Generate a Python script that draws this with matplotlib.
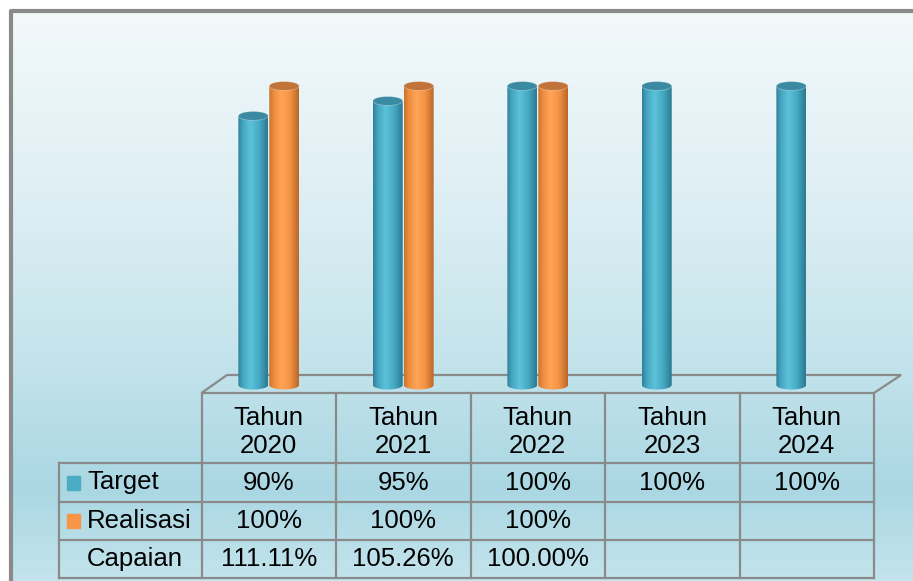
import numpy as np
import matplotlib.pyplot as plt
from matplotlib.colors import LinearSegmentedColormap
from matplotlib.patches import Ellipse, Polygon, Rectangle

plt.rcParams['font.family'] = ['Liberation Sans', 'DejaVu Sans']

# data
years = ['2020', '2021', '2022', '2023', '2024']
target = [90, 95, 100, 100, 100]
realisasi = [100, 100, 100, None, None]
capaian = ['111.11%', '105.26%', '100.00%', '', '']
row_names = ['Target', 'Realisasi', 'Capaian']

TEAL = '#4bacc6'
ORANGE = '#f79646'
LINE = '#8a8a8a'
W, H = 913, 581
FS = 18.5

fig = plt.figure(figsize=(W / 100, H / 100), dpi=100)

# background canvas in pixel units (frame, floor, table)
bg = fig.add_axes([0, 0, 1, 1])
bg.axis('off')
grad = LinearSegmentedColormap.from_list('bg', [
    (0.0, '#f3f9fb'), (0.35, '#dceef3'), (0.62, '#c3e3eb'),
    (0.84, '#aad7e3'), (1.0, '#c3e4ec')])
bg.imshow(np.linspace(0, 1, 256).reshape(-1, 1), cmap=grad,
          extent=(11, W, H, 11), aspect='auto', zorder=0)
bg.set_xlim(0, W)
bg.set_ylim(H, 0)
bg.plot([11, 11, W], [H, 11, 11], color=LINE, lw=3, zorder=1)

# floor
floor = [(201.5, 393), (227, 375), (901, 375), (874, 393)]
bg.add_patch(Polygon(floor, closed=True, facecolor='none', edgecolor=LINE, lw=1.6, zorder=1))

# table grid
cols = np.linspace(201.5, 874, len(years) + 1)
rows = [463, 502, 540, 578]
for y in rows:
    bg.plot([58.5, 874], [y, y], color=LINE, lw=1.6, zorder=1)
bg.plot([58.5, 58.5], [463, 578], color=LINE, lw=1.6, zorder=1)
for x in cols:
    bg.plot([x, x], [393, 578], color=LINE, lw=1.6, zorder=1)

centers = (cols[:-1] + cols[1:]) / 2
for i, yr in enumerate(years):
    bg.text(centers[i], 432, 'Tahun\n' + yr, ha='center', va='center',
            fontsize=FS, linespacing=1.22, zorder=2)
    bg.text(centers[i], 483, f'{target[i]}%', ha='center', va='center', fontsize=FS, zorder=2)
    if realisasi[i] is not None:
        bg.text(centers[i], 521.5, f'{realisasi[i]}%', ha='center', va='center', fontsize=FS, zorder=2)
    bg.text(centers[i], 559.5, capaian[i], ha='center', va='center', fontsize=FS, zorder=2)

row_mid = [(rows[k] + rows[k + 1]) / 2 for k in range(3)]
for k, name in enumerate(row_names):
    bg.text(87, row_mid[k], name, ha='left', va='center', fontsize=FS, zorder=2)
bg.add_patch(Rectangle((67, row_mid[0] - 7), 13, 14, color=TEAL, zorder=2))
bg.add_patch(Rectangle((67, row_mid[1] - 7), 13, 14, color=ORANGE, zorder=2))

# bar area
ax = fig.add_axes([201.5 / W, 1 - 392 / H, 672.5 / W, 382 / H])
ax.axis('off')
ax.patch.set_alpha(0)

teal_cmap = LinearSegmentedColormap.from_list('t', [
    (0, '#2f8199'), (0.15, '#45a5c0'), (0.42, '#5cc2da'), (0.7, '#48aac5'), (1, '#2a7a91')])
orange_cmap = LinearSegmentedColormap.from_list('o', [
    (0, '#c9732f'), (0.15, '#ee8c3e'), (0.42, '#ffa557'), (0.7, '#f59345'), (1, '#b9682a')])

BW = 0.222   # bar width in category units
EH = 3.0     # ellipse height in value units


def cylinder(xc, h, cmap, top_col):
    t = np.linspace(0, np.pi, 40)
    pts = [(xc - BW / 2 * np.cos(a), -EH / 2 * np.sin(a)) for a in t]
    pts += [(xc + BW / 2, h), (xc - BW / 2, h)]
    clip = Polygon(pts, closed=True, facecolor='none', edgecolor='none')
    ax.add_patch(clip)
    im = ax.imshow(np.linspace(0, 1, 64).reshape(1, -1), cmap=cmap,
                   extent=(xc - BW / 2, xc + BW / 2, -EH, h),
                   aspect='auto', interpolation='bilinear', zorder=2)
    im.set_clip_path(clip)
    ax.add_patch(Ellipse((xc, h), BW, EH, facecolor=top_col,
                         edgecolor='#ffffff55', lw=0.6, zorder=3))


for i in range(len(years)):
    cylinder(i - 0.115, target[i], teal_cmap, '#3a8aa2')
    if realisasi[i] is not None:
        cylinder(i + 0.115, realisasi[i], orange_cmap, '#c2733a')

ax.set_xlim(-0.5, len(years) - 0.5)
ax.set_ylim(-7 / 2.99, 375 / 2.99)

fig.savefig('out.png', dpi=100)
